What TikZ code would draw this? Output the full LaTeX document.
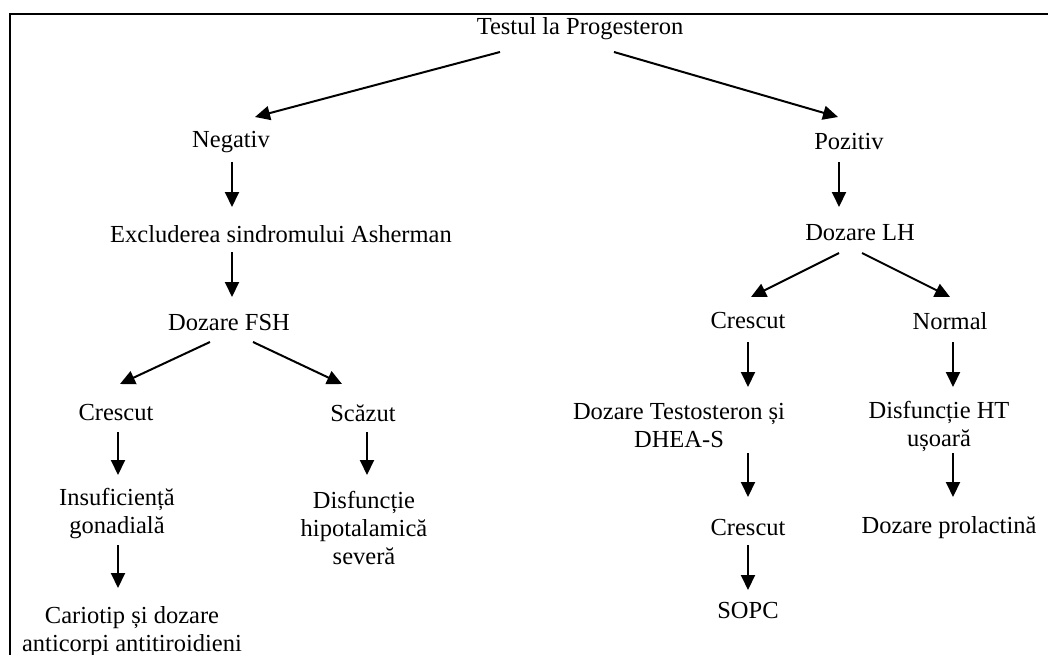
\documentclass[tikz,border=0pt]{standalone}
\usepackage{fontspec}
\setmainfont{Liberation Serif}
\usetikzlibrary{arrows.meta}
\begin{document}
\begin{tikzpicture}[x=1pt,y=-1pt,
    box/.style={align=center,inner sep=0pt,font=\fontsize{24.5}{28}\selectfont},
    arr/.style={line width=2pt,-{Triangle[length=15pt,width=14pt]}}]
    \useasboundingbox (0,0) rectangle (1048,655);
    %\node[] at (0,0) {};
    \draw[line width=2.5pt] (10,656) -- (10,14) -- (1049,14);
    \node[box] (title) at (580,29) {Testul la Progesteron};
    \node[box] (neg) at (231,142) {Negativ};
    \node[box] (poz) at (849,142) {Pozitiv};
    \node[box] (excl) at (281,234) {Excluderea sindromului Asherman};
    \node[box] (fsh) at (229,323) {Dozare FSH};
    \node[box] (lh) at (860,233) {Dozare LH};
    \node[box] (cresL) at (116,413) {Crescut};
    \node[box] (scaz) at (363,413) {Scăzut};
    \node[box] (cresR) at (748,321) {Crescut};
    \node[box] (normal) at (950,321) {Normal};
    \node[box] (insuf) at (117,514) {Insuficiență\\gonadială};
    \node[box] (hipo) at (364,528) {Disfuncție\\hipotalamică\\severă};
    \node[box] (test) at (679,426) {Dozare Testosteron și\\DHEA-S};
    \node[box] (ht) at (939,426) {Disfuncție HT\\ușoară};
    \node[box] (cres3) at (748,528) {Crescut};
    \node[box] (prol) at (949,528) {Dozare prolactină};
    \node[box] (cario) at (132,632) {Cariotip și dozare\\anticorpi antitiroidieni};
    \node[box] (sopc) at (748,611) {SOPC};
    
    \draw[arr] ([shift={(-80,23)}]title.center) -- ([shift={(24,-25)}]neg.center);
    \draw[arr] ([shift={(34,23)}]title.center) -- ([shift={(-11,-25)}]poz.center);
    \draw[arr] ([shift={(1,20)}]neg.center) -- ([shift={(-49,-27)}]excl.center);
    \draw[arr] ([shift={(-49,18)}]excl.center) -- ([shift={(3,-26)}]fsh.center);
    \draw[arr] ([shift={(-10,20)}]poz.center) -- ([shift={(-21,-26)}]lh.center);
    \draw[arr] ([shift={(-19,19)}]fsh.center) -- ([shift={(4,-29)}]cresL.center);
    \draw[arr] ([shift={(24,19)}]fsh.center) -- ([shift={(-21,-29)}]scaz.center);
    \draw[arr] ([shift={(-21,20)}]lh.center) -- ([shift={(3,-24)}]cresR.center);
    \draw[arr] ([shift={(2,20)}]lh.center) -- ([shift={(0,-24)}]normal.center);
    \draw[arr] ([shift={(2,19)}]cresL.center) -- ([shift={(1,-39)}]insuf.center);
    \draw[arr] ([shift={(4,19)}]scaz.center) -- ([shift={(3,-53)}]hipo.center);
    \draw[arr] ([shift={(1,31)}]insuf.center) -- ([shift={(-14,-44)}]cario.center);
    \draw[arr] ([shift={(0,21)}]cresR.center) -- ([shift={(69,-39)}]test.center);
    \draw[arr] ([shift={(3,21)}]normal.center) -- ([shift={(14,-39)}]ht.center);
    \draw[arr] ([shift={(69,27)}]test.center) -- ([shift={(0,-31)}]cres3.center);
    \draw[arr] ([shift={(14,27)}]ht.center) -- ([shift={(4,-31)}]prol.center);
    \draw[arr] ([shift={(0,17)}]cres3.center) -- ([shift={(0,-21)}]sopc.center);
    
\end{tikzpicture}
\end{document}
